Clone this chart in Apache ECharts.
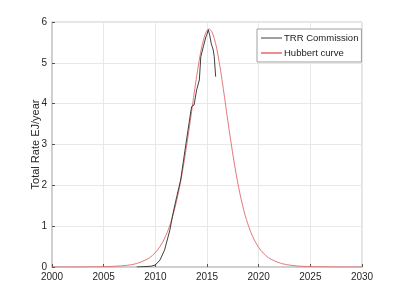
<!DOCTYPE html>
<html><head><meta charset="utf-8">
<script src="https://cdn.jsdelivr.net/npm/echarts@6/dist/echarts.min.js"></script>
<style>html,body{margin:0;padding:0;background:#fff}#c{width:400px;height:300px}</style>
</head><body><div id="c"></div>
<script>
// TRR Commission data (year, EJ/year)
const trrYears = [2008.2, 2009.0, 2009.6, 2010.0, 2010.45, 2010.9, 2011.4, 2011.7, 2012.07, 2012.45, 2012.97, 2013.46, 2013.52, 2013.75, 2014.0, 2014.26, 2014.4, 2014.65, 2014.9, 2015.0, 2015.13, 2015.25, 2015.4, 2015.5, 2015.6, 2015.7, 2015.83, 2015.84];
const trrValues = [0.0, 0.01, 0.02, 0.05, 0.17, 0.42, 0.9, 1.3, 1.72, 2.13, 3.03, 3.85, 3.93, 3.97, 4.34, 4.58, 5.15, 5.40, 5.64, 5.70, 5.81, 5.69, 5.48, 5.40, 5.32, 5.15, 5.11, 4.66];
// Hubbert curve (year, EJ/year)
const hubYears = [2000, 2003.2, 2005.2, 2007.2, 2008.2, 2009.2, 2009.7, 2010.2, 2010.7, 2011.2, 2011.7, 2012.2, 2012.7, 2013.2, 2013.45, 2013.7, 2013.95, 2014.2, 2014.45, 2014.7, 2014.95, 2015.2, 2015.45, 2015.7, 2015.95, 2016.2, 2016.45, 2016.7, 2016.95, 2017.2, 2017.7, 2018.2, 2018.7, 2019.2, 2019.7, 2020.2, 2020.7, 2021.2, 2022.2, 2023.2, 2024.2, 2025.2, 2027.2, 2030];
const hubValues = [0.0001, 0.0016, 0.0078, 0.0387, 0.0856, 0.189, 0.279, 0.412, 0.604, 0.878, 1.26, 1.78, 2.45, 3.26, 3.70, 4.15, 4.59, 4.99, 5.34, 5.60, 5.77, 5.83, 5.77, 5.60, 5.34, 4.99, 4.59, 4.15, 3.70, 3.26, 2.45, 1.78, 1.26, 0.878, 0.604, 0.412, 0.279, 0.189, 0.0856, 0.0387, 0.0174, 0.0078, 0.0016, 0.0001];
const seriesNames = ['TRR Commission', 'Hubbert curve'];
const yLabel = 'Total Rate EJ/year';

const chart = echarts.init(document.getElementById('c'), null, {renderer: 'canvas'});
const font = 'Liberation Sans, Arial, sans-serif';
chart.setOption({
  animation: false,
  grid: {left: 52, right: 38, top: 22, bottom: 33, show: true, borderColor: '#c8c8c8', borderWidth: 1},
  legend: {
    data: [
      {name: seriesNames[0], icon: 'rect', itemStyle: {color: '#808080'}},
      {name: seriesNames[1], icon: 'rect', itemStyle: {color: '#e06a6a'}}
    ],
    orient: 'vertical', left: 257, top: 29,
    itemWidth: 21, itemHeight: 1.5, itemGap: 5,
    backgroundColor: '#fff', borderColor: '#a0a0a0', borderWidth: 1,
    padding: [4, 3, 4, 4],
    textStyle: {fontFamily: font, fontSize: 9.5, color: '#222', padding: [0, 0, 0, -3]}
  },
  xAxis: {
    type: 'value', min: 2000, max: 2030, interval: 5,
    axisLine: {show: true, onZero: false, lineStyle: {color: '#c8c8c8', width: 1.5}},
    axisTick: {show: true, inside: true, length: 3, lineStyle: {color: '#555'}},
    axisLabel: {fontFamily: font, fontSize: 10, color: '#262626', margin: 5, formatter: v => String(v)},
    splitLine: {show: true, lineStyle: {color: '#e8e8e8', width: 1}}
  },
  yAxis: {
    type: 'value', min: 0, max: 6, interval: 1,
    name: yLabel, nameLocation: 'middle', nameGap: 11, nameMoveOverlap: false,
    nameTextStyle: {fontFamily: font, fontSize: 11, color: '#262626'},
    axisLine: {show: true, lineStyle: {color: '#c8c8c8', width: 1.5}},
    axisTick: {show: true, inside: true, length: 3, lineStyle: {color: '#555'}},
    axisLabel: {fontFamily: font, fontSize: 10, color: '#262626', margin: 5},
    splitLine: {show: true, lineStyle: {color: '#e8e8e8', width: 1}}
  },
  series: [
    {name: seriesNames[0], type: 'line', symbol: 'none', z: 3,
     data: trrYears.map((y, i) => [y, trrValues[i]]),
     lineStyle: {color: '#2a2a2a', width: 0.9}},
    {name: seriesNames[1], type: 'line', symbol: 'none', smooth: 0.3, z: 2,
     data: hubYears.map((y, i) => [y, hubValues[i]]),
     lineStyle: {color: '#e06a6a', width: 0.9}}
  ]
});
</script></body></html>
